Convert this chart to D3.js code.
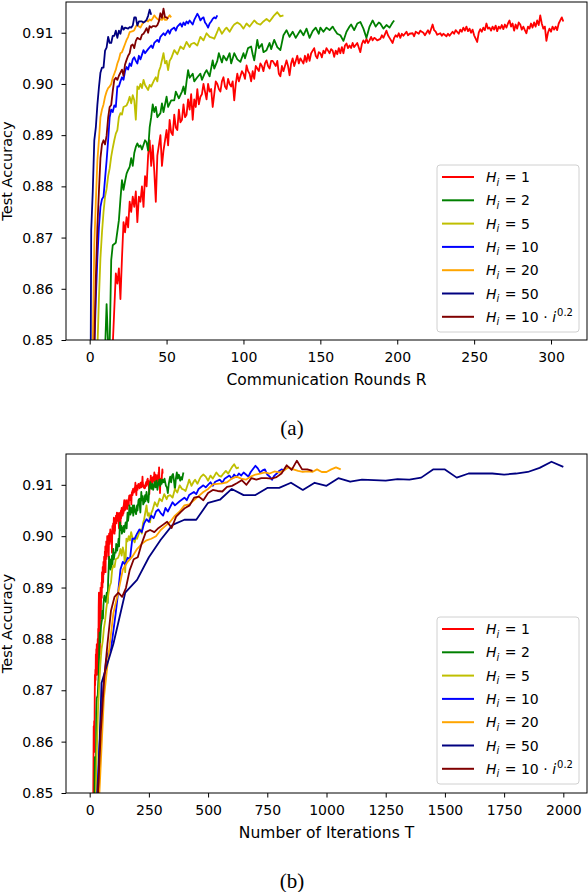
<!DOCTYPE html>
<html>
<head>
<meta charset="utf-8">
<script src="https://cdn.jsdelivr.net/npm/d3@7/dist/d3.min.js"></script>
<style>
  body { margin: 0; background: #fff; }
  svg { display: block; font-family: 'DejaVu Sans', sans-serif; }
</style>
</head>
<body>
<svg id="fig" width="588" height="892"></svg>
<script>
// legend / series setup
const hLabels = ['1', '2', '5', '10', '20', '50', '10'];
const hValues = [1, 2, 5, 10, 20, 50, null];   // null -> H_i = 10 * i^0.2
const colors = ['#ff0000', '#008000', '#bfbf00', '#0000ff', '#ffa500', '#000080', '#800000'];

// ticks
const yTicks = [0.85, 0.86, 0.87, 0.88, 0.89, 0.90, 0.91];
const roundTicks = [0, 50, 100, 150, 200, 250, 300];
const iterTicks = [0, 250, 500, 750, 1000, 1250, 1500, 1750, 2000];

// [round, test accuracy]
const accH1 = [[15,0.849],[16,0.856],[17,0.863],[18,0.861],[19,0.864],[20,0.858],[21,0.866],[22,0.873],[23,0.871],[24,0.874],[25,0.872],[26,0.877],[27,0.875],[28,0.878],[29,0.876],[30,0.879],[31,0.873],[32,0.878],[33,0.877],[34,0.880],[35,0.876],[36,0.882],[37,0.880],[38,0.886],[39,0.889],[40,0.884],[41,0.888],[42,0.883],[43,0.877],[44,0.886],[45,0.888],[46,0.890],[47,0.884],[48,0.887],[49,0.889],[50,0.891],[51,0.888],[52,0.893],[53,0.8905],[54,0.890],[55,0.894],[56,0.8915],[57,0.891],[58,0.895],[59,0.8925],[60,0.893],[61,0.896],[62,0.8935],[63,0.894],[64,0.897],[65,0.895],[66,0.898],[67,0.893],[68,0.897],[69,0.8955],[70,0.899],[71,0.896],[72,0.8975],[73,0.898],[74,0.900],[75,0.8985],[76,0.897],[77,0.900],[78,0.8985],[79,0.899],[80,0.8955],[81,0.898],[82,0.9005],[83,0.900],[84,0.899],[85,0.8985],[86,0.9005],[87,0.9013],[88,0.8995],[89,0.899],[90,0.901],[91,0.900],[92,0.8995],[93,0.9005],[94,0.8968],[95,0.900],[96,0.902],[97,0.9005],[98,0.9015],[99,0.9025],[100,0.902],[101,0.901],[102,0.9036],[103,0.9025],[104,0.902],[105,0.9005],[106,0.9025],[107,0.901],[108,0.9035],[109,0.903],[110,0.9025],[111,0.904],[112,0.9035],[113,0.9025],[114,0.904],[115,0.9046],[116,0.9035],[117,0.903],[118,0.9045],[119,0.9045],[120,0.904],[121,0.9035],[122,0.9045],[123,0.902],[124,0.9015],[125,0.9035],[126,0.9025],[128,0.9046],[129,0.9035],[130,0.9017],[131,0.904],[132,0.905],[133,0.9035],[134,0.9045],[135,0.9055],[136,0.904],[137,0.905],[138,0.9045],[139,0.904],[140,0.9055],[141,0.9043],[142,0.9058],[143,0.9045],[144,0.906],[146,0.907],[147,0.9055],[148,0.905],[149,0.9062],[150,0.906],[151,0.9052],[152,0.9065],[153,0.906],[154,0.907],[155,0.9065],[156,0.906],[157,0.9068],[158,0.9065],[159,0.9053],[160,0.9065],[161,0.9058],[162,0.907],[163,0.906],[164,0.9072],[165,0.906],[166,0.9075],[167,0.9079],[168,0.907],[169,0.9075],[170,0.907],[171,0.908],[172,0.9072],[174,0.908],[176,0.9062],[177,0.9078],[178,0.9085],[179,0.908],[180,0.9088],[181,0.908],[182,0.9085],[183,0.9092],[184,0.9085],[185,0.909],[186,0.9088],[187,0.9085],[189,0.9088],[190,0.9095],[191,0.909],[193,0.9104],[194,0.9095],[195,0.909],[197,0.908],[198,0.909],[199,0.9095],[200,0.9092],[201,0.9099],[202,0.909],[203,0.9098],[204,0.9094],[206,0.9102],[207,0.9095],[208,0.9098],[210,0.9099],[211,0.9093],[212,0.9102],[214,0.9098],[215,0.9104],[217,0.910],[218,0.9095],[220,0.9105],[221,0.9098],[223,0.9116],[224,0.9105],[225,0.9102],[226,0.9096],[228,0.9099],[229,0.9094],[230,0.9098],[232,0.9093],[233,0.9098],[234,0.9094],[236,0.9102],[237,0.9098],[238,0.9105],[240,0.9098],[241,0.9106],[242,0.9102],[243,0.911],[244,0.9104],[245,0.9112],[246,0.9103],[247,0.9108],[248,0.910],[249,0.9106],[250,0.9095],[252,0.9082],[253,0.910],[254,0.9107],[255,0.9102],[256,0.911],[257,0.9105],[258,0.9118],[259,0.9108],[260,0.911],[261,0.9104],[262,0.9112],[263,0.9106],[264,0.9114],[265,0.9103],[266,0.9112],[267,0.9108],[268,0.9115],[269,0.9107],[270,0.9116],[271,0.911],[272,0.9118],[273,0.9124],[274,0.9112],[275,0.9118],[276,0.9104],[277,0.9116],[278,0.9108],[279,0.912],[280,0.9116],[281,0.9106],[282,0.9112],[283,0.9105],[284,0.9099],[285,0.9112],[286,0.9108],[287,0.9118],[288,0.911],[289,0.912],[290,0.9112],[291,0.9124],[292,0.9115],[293,0.9134],[294,0.9118],[295,0.9108],[296,0.9112],[297,0.9084],[298,0.910],[299,0.9108],[300,0.9102],[301,0.9112],[302,0.9106],[303,0.9112],[304,0.9105],[305,0.9118],[306,0.9124],[307,0.913],[308,0.9122]];

const accH2 = [[10,0.848],[11,0.857],[12,0.849],[13,0.849],[14,0.8656],[15,0.8685],[17,0.869],[19,0.8734],[20,0.8775],[21,0.8812],[22,0.8793],[23,0.881],[24,0.8825],[25,0.8832],[26,0.8838],[27,0.8855],[28,0.884],[29,0.8865],[30,0.8877],[31,0.8884],[32,0.8877],[33,0.888],[34,0.8872],[36,0.889],[37,0.8886],[38,0.887],[39,0.8915],[40,0.8935],[41,0.896],[42,0.8945],[43,0.8955],[44,0.8935],[46,0.8943],[47,0.8962],[48,0.8945],[50,0.8975],[51,0.8955],[53,0.8968],[55,0.8968],[56,0.8985],[58,0.8972],[60,0.8985],[61,0.8995],[62,0.898],[63,0.9005],[64,0.9027],[65,0.9012],[67,0.902],[68,0.9005],[70,0.9013],[72,0.902],[73,0.9008],[75,0.9022],[76,0.9027],[78,0.9015],[80,0.9046],[81,0.903],[83,0.9045],[84,0.906],[86,0.9042],[87,0.9055],[89,0.9046],[91,0.906],[92,0.904],[94,0.906],[96,0.9048],[98,0.9043],[100,0.906],[101,0.905],[103,0.907],[105,0.9073],[106,0.9058],[107,0.9046],[109,0.9086],[110,0.907],[112,0.9078],[113,0.9062],[115,0.9066],[117,0.908],[118,0.9068],[120,0.9086],[122,0.9072],[124,0.9066],[126,0.9095],[128,0.9105],[130,0.9092],[132,0.9102],[134,0.909],[137,0.9105],[139,0.9095],[141,0.9108],[143,0.909],[145,0.9103],[147,0.911],[149,0.9098],[150,0.911],[152,0.9102],[154,0.911],[156,0.9105],[158,0.9112],[159,0.9107],[161,0.9098],[163,0.9095],[165,0.9084],[167,0.9102],[169,0.9112],[170,0.9116],[172,0.9105],[174,0.9118],[176,0.9121],[178,0.9108],[180,0.909],[182,0.9112],[184,0.9124],[186,0.9112],[188,0.912],[189,0.9118],[191,0.9108],[193,0.9115],[195,0.911],[197,0.912],[198,0.9124]];

const accH5 = [[5,0.848],[6,0.858],[7,0.866],[8,0.871],[9,0.875],[10,0.878],[11,0.8795],[12,0.882],[13,0.8835],[14,0.8858],[15,0.8875],[16,0.889],[17,0.8903],[18,0.891],[19,0.8935],[20,0.8943],[21,0.894],[22,0.8955],[24,0.8958],[25,0.8965],[26,0.8975],[27,0.8962],[28,0.8978],[29,0.8968],[30,0.893],[31,0.8995],[32,0.899],[33,0.900],[34,0.8992],[35,0.9008],[36,0.8998],[38,0.8988],[39,0.8998],[40,0.8995],[42,0.9008],[43,0.9013],[44,0.9005],[45,0.9025],[46,0.9033],[48,0.906],[49,0.904],[50,0.9045],[51,0.9027],[52,0.9045],[53,0.905],[55,0.9066],[57,0.9058],[59,0.9073],[61,0.9068],[63,0.9082],[65,0.9072],[66,0.9078],[68,0.908],[70,0.9075],[72,0.9092],[74,0.9085],[76,0.9099],[78,0.9092],[80,0.909],[81,0.9088],[83,0.9102],[84,0.911],[86,0.9098],[88,0.9107],[89,0.911],[91,0.9102],[93,0.9112],[94,0.9116],[96,0.912],[98,0.9116],[100,0.9108],[102,0.9118],[104,0.9112],[106,0.912],[107,0.9124],[109,0.9118],[111,0.9116],[113,0.9122],[115,0.9127],[117,0.9122],[119,0.913],[120,0.9134],[122,0.914],[124,0.9132],[126,0.9134]];

const accH10 = [[3,0.848],[4,0.858],[5,0.866],[6,0.872],[7,0.876],[8,0.8775],[9,0.878],[10,0.8815],[11,0.885],[12,0.889],[13,0.8935],[14,0.895],[15,0.8945],[16,0.8958],[17,0.8955],[18,0.8995],[19,0.8995],[20,0.9005],[21,0.9013],[22,0.9008],[23,0.9025],[24,0.9033],[25,0.9028],[26,0.904],[27,0.9035],[28,0.9048],[29,0.9052],[30,0.9045],[31,0.904],[32,0.9055],[33,0.9048],[35,0.9066],[36,0.906],[38,0.9068],[40,0.9075],[41,0.907],[42,0.908],[44,0.9086],[45,0.9082],[46,0.9092],[48,0.9099],[49,0.9095],[51,0.9105],[52,0.9098],[53,0.9106],[55,0.911],[56,0.9104],[57,0.9112],[59,0.9118],[60,0.9112],[61,0.912],[62,0.9115],[63,0.9122],[64,0.9118],[65,0.9124],[66,0.912],[67,0.9116],[68,0.9125],[70,0.9137],[71,0.9132],[72,0.9124],[73,0.9128],[74,0.913],[75,0.912],[76,0.9116],[77,0.911],[78,0.9118],[79,0.9122],[80,0.9127],[81,0.913],[82,0.9128],[83,0.9134]];

const accH20 = [[2,0.849],[3,0.8685],[4,0.877],[5,0.885],[6,0.889],[7,0.8935],[8,0.895],[9,0.896],[10,0.8975],[11,0.8985],[12,0.8992],[13,0.8995],[14,0.900],[15,0.9012],[16,0.902],[17,0.9028],[18,0.904],[19,0.9048],[20,0.906],[21,0.9062],[22,0.907],[23,0.9078],[24,0.9086],[25,0.9092],[26,0.9101],[28,0.9103],[29,0.9105],[30,0.9112],[31,0.9116],[32,0.9112],[33,0.911],[34,0.9116],[35,0.912],[36,0.9122],[37,0.9124],[38,0.9122],[39,0.9126],[40,0.9124],[41,0.9128],[42,0.9134],[43,0.913],[44,0.9127],[45,0.9125],[46,0.9126],[47,0.9125],[48,0.913],[49,0.9125],[50,0.9125],[51,0.913],[52,0.9134],[53,0.913]];

const accH50 = [[0,0.800],[1,0.8714],[2,0.879],[3,0.889],[4,0.8915],[5,0.8959],[6,0.8993],[7,0.9022],[8,0.9032],[9,0.9032],[10,0.9065],[11,0.9071],[12,0.9092],[13,0.908],[14,0.908],[15,0.9094],[16,0.9094],[17,0.9104],[18,0.909],[19,0.9104],[20,0.9098],[21,0.9113],[22,0.9106],[23,0.911],[24,0.9109],[25,0.9108],[26,0.9111],[27,0.911],[28,0.9114],[29,0.913],[30,0.913],[31,0.9114],[32,0.9122],[33,0.9122],[34,0.9122],[35,0.912],[36,0.9122],[37,0.9125],[38,0.9133],[39,0.9145],[40,0.9135]];

const accHvar = [[0,0.800],[1,0.820],[2,0.838],[3,0.849],[4,0.862],[5,0.872],[6,0.879],[7,0.8855],[8,0.8882],[9,0.889],[10,0.8882],[11,0.8899],[12,0.8934],[13,0.8955],[14,0.8959],[15,0.8986],[16,0.9008],[17,0.9012],[18,0.9008],[19,0.9016],[20,0.9022],[21,0.9028],[22,0.9016],[23,0.9038],[24,0.9047],[25,0.9055],[26,0.906],[27,0.9075],[28,0.9077],[29,0.907],[30,0.9084],[31,0.909],[32,0.9088],[33,0.9087],[34,0.9096],[35,0.9098],[36,0.9103],[37,0.9109],[38,0.910],[39,0.9113],[40,0.911],[41,0.9113],[42,0.9113],[43,0.9112],[44,0.9115],[45,0.9122],[46,0.9138],[47,0.9129],[48,0.9147],[49,0.913],[50,0.913],[51,0.9127]];

// cumulative local iterations after each round for H_i = 10 * i^0.2
const varIters = [0,10,22,34,47,61,75,90,105,121,137,153,169,186,203,220,237,255,273,291,309,327,346,365,384,403,422,441,461,480,500,520,540,560,580,601,621,642,662,683,704,725,746,767,789,810,832,853,875,897,919,941];

const accData = [accH1, accH2, accH5, accH10, accH20, accH50, accHvar];

const series = accData.map((pts, i) => ({
  h: hValues[i],
  hLabel: hLabels[i],
  color: colors[i],
  pts
}));

const svg = d3.select('#fig');

function legendText(text, d) {
  text.append('tspan').attr('font-style', 'italic').text('H');
  text.append('tspan').attr('font-style', 'italic').attr('font-size', '10px').attr('dy', 3.5).text('i');
  text.append('tspan').attr('dy', -3.5).attr('dx', 1).text(' = ' + d.hLabel);
  if (d.h === null) {
    text.append('tspan').text(' \u00b7 ');
    text.append('tspan').attr('font-style', 'italic').text('i');
    text.append('tspan').attr('font-size', '10px').attr('dy', -6).attr('dx', 1).text('0.2');
  }
}

function drawPanel(cfg) {
  const g = svg.append('g');
  const lines = series.map(s => ({ ...s, xy: s.pts.map(p => [cfg.xOf(s, p[0]), p[1]]) }));

  const ext = d3.extent(lines.flatMap(l => l.xy.map(p => p[0])));
  const pad = (ext[1] - ext[0]) * 0.05;

  const x = d3.scaleLinear().domain([ext[0] - pad, ext[1] + pad]).range([cfg.left, cfg.right]);
  const y = d3.scaleLinear().domain([0.85, 0.916]).range([cfg.bottom, cfg.top]);

  g.append('clipPath').attr('id', cfg.id + '-clip')
    .append('rect')
    .attr('x', cfg.left).attr('y', cfg.top)
    .attr('width', cfg.right - cfg.left).attr('height', cfg.bottom - cfg.top);

  const line = d3.line().x(d => x(d[0])).y(d => y(d[1]));

  g.append('g').attr('clip-path', `url(#${cfg.id}-clip)`)
    .selectAll('path')
    .data(lines)
    .join('path')
    .attr('d', d => line(d.xy))
    .attr('fill', 'none')
    .attr('stroke', d => d.color)
    .attr('stroke-width', 1.8)
    .attr('stroke-linejoin', 'round');

  // axes
  const xAxis = g.append('g')
    .attr('transform', `translate(0,${cfg.bottom})`)
    .call(d3.axisBottom(x).tickValues(cfg.xTicks).tickFormat(d3.format('d')).tickSize(4.5).tickPadding(7.5));
  const yAxis = g.append('g')
    .attr('transform', `translate(${cfg.left},0)`)
    .call(d3.axisLeft(y).tickValues(yTicks).tickFormat(d3.format('.2f')).tickSize(4.5).tickPadding(8));
  [xAxis, yAxis].forEach(a => {
    a.select('.domain').remove();
    a.selectAll('line').attr('stroke', '#000').attr('stroke-width', 1);
    a.selectAll('text').attr('font-size', 14).attr('fill', '#000')
      .attr('font-family', "'DejaVu Sans', sans-serif");
  });

  g.append('rect')
    .attr('x', cfg.left).attr('y', cfg.top)
    .attr('width', cfg.right - cfg.left).attr('height', cfg.bottom - cfg.top)
    .attr('fill', 'none').attr('stroke', '#000').attr('stroke-width', 1);

  g.append('text')
    .attr('x', (cfg.left + cfg.right) / 2).attr('y', cfg.bottom + 45)
    .attr('text-anchor', 'middle').attr('font-size', 15.5)
    .text(cfg.xLabel);

  g.append('text')
    .attr('transform', `translate(12,${(cfg.top + cfg.bottom) / 2}) rotate(-90)`)
    .attr('text-anchor', 'middle').attr('font-size', 14.5)
    .text('Test Accuracy');

  g.append('text')
    .attr('x', 292).attr('y', cfg.bottom + 95)
    .attr('text-anchor', 'middle')
    .style('font-family', "'Liberation Serif', 'Times New Roman', serif")
    .attr('font-size', 21)
    .text(cfg.caption);

  // legend
  const lg = g.append('g').attr('transform', `translate(437,${cfg.legendTop})`);
  lg.append('rect')
    .attr('width', 142).attr('height', 167).attr('rx', 3)
    .attr('fill', '#fff').attr('fill-opacity', 0.8)
    .attr('stroke', '#d0d0d0').attr('stroke-width', 1);
  const items = lg.selectAll('g.item').data(lines).join('g')
    .attr('class', 'item')
    .attr('transform', (d, i) => `translate(0,${12 + i * 23.3})`);
  items.append('line')
    .attr('x1', 5).attr('x2', 37)
    .attr('stroke', d => d.color).attr('stroke-width', 2);
  items.append('text')
    .attr('x', 49).attr('dy', '0.36em')
    .attr('font-size', 14)
    .each(function (d) { legendText(d3.select(this), d); });
}

drawPanel({
  id: 'rounds', top: 2, bottom: 340, left: 66, right: 587,
  xOf: (s, r) => r,
  xTicks: roundTicks, xLabel: 'Communication Rounds R', caption: '(a)',
  legendTop: 165
});

drawPanel({
  id: 'iters', top: 454, bottom: 793, left: 66, right: 587,
  xOf: (s, r) => (s.h === null ? varIters[r] : r * s.h),
  xTicks: iterTicks, xLabel: 'Number of Iterations T', caption: '(b)',
  legendTop: 617
});
</script>
</body>
</html>
